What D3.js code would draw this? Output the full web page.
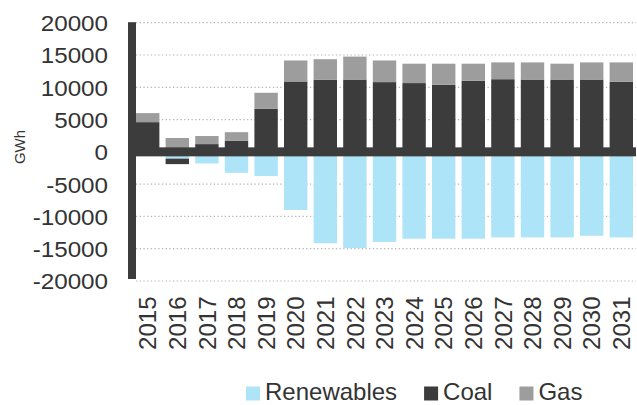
<!DOCTYPE html>
<html>
<head>
<meta charset="utf-8" />
<script src="https://d3js.org/d3.v7.min.js"></script>
<title>Generation change</title>
<style>
  body { margin: 0; background: #fff; }
  text { font-family: "Liberation Sans", Arial, Helvetica, sans-serif; fill: #333; }
</style>
</head>
<body>
<script>

// data (GWh)
var years = ["2015","2016","2017","2018","2019","2020","2021","2022","2023","2024","2025","2026","2027","2028","2029","2030","2031"];
var renewables = [0, -1050, -1800, -3250, -3750, -9000, -14150, -14900, -13950, -13450, -13450, -13450, -13250, -13250, -13250, -13000, -13250];
var coal = [4600, -850, 1200, 1700, 6650, 10900, 11150, 11200, 10800, 10650, 10400, 11000, 11250, 11200, 11200, 11200, 10850];
var gas = [1400, 2150, 1250, 1350, 2500, 3250, 3200, 3550, 3350, 3000, 3250, 2650, 2600, 2650, 2450, 2650, 3000];
var yTicks = [20000, 15000, 10000, 5000, 0, -5000, -10000, -15000, -20000];
var seriesNames = ["Renewables", "Coal", "Gas"];
var colors = ["#aee4f8", "#3c3c3c", "#9d9d9d"];

var width = 637, height = 405;
var plotLeft = 136, plotRight = 636, plotTop = 22.7, plotBottom = 281;

var rows = years.map(function(y, i) {
  return {year: y, Renewables: renewables[i], Coal: coal[i], Gas: gas[i]};
});

var stack = d3.stack().keys(seriesNames).offset(d3.stackOffsetDiverging);
var layers = stack(rows);

var x = d3.scaleBand().domain(years).range([plotLeft, 633]).paddingInner(0.21).paddingOuter(0);
var y = d3.scaleLinear().domain([-20000, 20000]).range([plotBottom, plotTop]);
var color = d3.scaleOrdinal().domain(seriesNames).range(colors);

var svg = d3.select("body").append("svg")
    .attr("width", width)
    .attr("height", height);

// dotted gridlines
svg.append("g")
  .selectAll("line")
  .data(yTicks.filter(function(d) { return d !== 0; }))
  .enter().append("line")
    .attr("x1", plotLeft).attr("x2", plotRight)
    .attr("y1", function(d) { return y(d); })
    .attr("y2", function(d) { return y(d); })
    .attr("stroke", "#b5b5b5")
    .attr("stroke-width", 1.2)
    .attr("stroke-dasharray", "1.3,2.4");

// bars
svg.append("g")
  .selectAll("g")
  .data(layers)
  .enter().append("g")
    .attr("fill", function(d) { return color(d.key); })
  .selectAll("rect")
  .data(function(d) { return d; })
  .enter().append("rect")
    .attr("x", function(d) { return x(d.data.year); })
    .attr("width", x.bandwidth())
    .attr("y", function(d) { return y(Math.max(d[0], d[1])); })
    .attr("height", function(d) { return Math.abs(y(d[0]) - y(d[1])); });

// thick axis lines
svg.append("rect")
  .attr("x", 128).attr("width", 8)
  .attr("y", y(20000) - 0.5)
  .attr("height", y(-20000) - y(20000) - 1.5)
  .attr("fill", "#3c3c3c");

svg.append("rect")
  .attr("x", 128).attr("width", plotRight - 128)
  .attr("y", y(0) - 4.5)
  .attr("height", 9)
  .attr("fill", "#3c3c3c");

// y axis labels (plain hyphen for negatives, as in the source)
var yAxis = svg.append("g")
  .attr("transform", "translate(" + plotLeft + ",0)")
  .call(d3.axisLeft(y).tickValues(yTicks).tickSize(0).tickFormat(function(d) { return String(d); }));
yAxis.select(".domain").remove();
yAxis.attr("font-family", null).attr("font-size", null);
yAxis.selectAll("text")
  .attr("x", -28 / 1.1)
  .attr("dy", "0.36em")
  .attr("transform", "scale(1.1,1)")
  .style("font-size", "22px");

// x axis labels
var xAxis = svg.append("g")
  .attr("transform", "translate(0," + plotBottom + ")")
  .call(d3.axisBottom(x).tickSize(0));
xAxis.select(".domain").remove();
xAxis.attr("font-family", null).attr("font-size", null);
xAxis.selectAll("text")
  .attr("transform", "rotate(-90)")
  .attr("x", -15.5)
  .attr("y", 0)
  .attr("dy", "0.36em")
  .attr("text-anchor", "end")
  .style("font-size", "24px");

svg.selectAll(".tick text").attr("fill", "#333");

// y title
svg.append("text")
  .attr("transform", "translate(25,147) rotate(-90)")
  .attr("text-anchor", "middle")
  .style("font-size", "15px")
  .text("GWh");

// legend
var legend = svg.append("g");
var lx = 246;
seriesNames.forEach(function(name, i) {
  legend.append("rect")
    .attr("x", lx).attr("y", 386.5)
    .attr("width", 14).attr("height", 14)
    .attr("fill", colors[i]);
  var t = legend.append("text")
    .attr("x", lx + 19)
    .attr("y", 400)
    .style("font-size", "24px")
    .text(name);
  lx = lx + 19 + t.node().getComputedTextLength() + 27;
});

</script>
</body>
</html>
